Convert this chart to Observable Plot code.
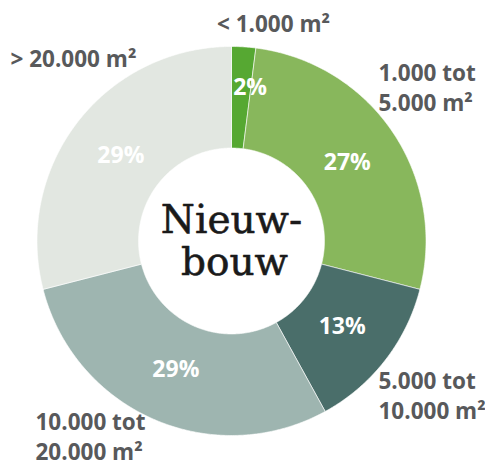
<!DOCTYPE html>
<html>
<head>
<meta charset="utf-8">
<script src="https://cdn.jsdelivr.net/npm/d3@7"></script>
<script src="https://cdn.jsdelivr.net/npm/@observablehq/plot@0.6"></script>
<style>
  html, body { margin: 0; padding: 0; background: #ffffff; }
  #chart svg { display: block; overflow: visible; }
</style>
</head>
<body>
<div id="chart"></div>
<script>
// Data
const categories = ["< 1.000 m²", "1.000 tot\n5.000 m²", "5.000 tot\n10.000 m²", "10.000 tot\n20.000 m²", "> 20.000 m²"];
const shares = [2, 27, 13, 29, 29];
const colors = ["#56a832", "#88b75c", "#4a6e6a", "#9eb5b0", "#e2e7e1"];
const centerTitle = ["Nieuw-", "bouw"];

// Build slice outlines (clockwise from top) in unit coordinates
const innerR = 0.478;
const total = d3.sum(shares);
const cum = [0];
shares.forEach((v, i) => cum.push(cum[i] + v));
const slices = [];
const labels = [];
categories.forEach((cat, i) => {
  const a0 = cum[i] / total * 2 * Math.PI;
  const a1 = cum[i + 1] / total * 2 * Math.PI;
  const n = Math.max(4, Math.ceil((a1 - a0) / (Math.PI / 360)));
  for (let k = 0; k <= n; k++) {
    const t = a0 + (a1 - a0) * k / n;
    slices.push({cat, x: Math.sin(t), y: Math.cos(t)});
  }
  for (let k = n; k >= 0; k--) {
    const t = a0 + (a1 - a0) * k / n;
    slices.push({cat, x: innerR * Math.sin(t), y: innerR * Math.cos(t)});
  }
  slices.push({cat, x: Math.sin(a0), y: Math.cos(a0)});
  const mid = (a0 + a1) / 2;
  const r = shares[i] < 5 ? 0.79 : 0.72;
  labels.push({cat, small: shares[i] < 5, text: shares[i] + "%", x: r * Math.sin(mid), y: r * Math.cos(mid)});
});

const labelFont = "'Open Sans', 'Noto Sans', sans-serif";
const catStyle = {fontFamily: labelFont, fontWeight: 700, fontSize: 22.5, fill: "#58595b", lineHeight: 1.3, lineAnchor: "bottom"};
const titleStyle = {fontFamily: "'DejaVu Serif', serif", fontSize: 39, fill: "#1a1a1a", stroke: "#1a1a1a", strokeWidth: 0.6, lineAnchor: "bottom"};

const chart = Plot.plot({
  width: 485,
  height: 466,
  margin: 0,
  x: {domain: [-1, 1], range: [36.5, 425.5], axis: null},
  y: {domain: [-1, 1], range: [435, 46], axis: null},
  color: {domain: categories, range: colors},
  marks: [
    Plot.line(slices, {x: "x", y: "y", z: "cat", fill: "cat", stroke: "#ffffff", strokeWidth: 1, strokeOpacity: 0.6}),
    Plot.text(labels.filter(d => !d.small), {x: "x", y: "y", text: "text", fill: "#ffffff", fontFamily: labelFont, fontWeight: 700, fontSize: 23}),
    Plot.text(labels.filter(d => d.small), {x: "x", y: "y", text: "text", dx: 9, fill: "#ffffff", fontFamily: labelFont, fontWeight: 700, fontSize: 23}),
    Plot.text([centerTitle[0]], {x: 0, y: 0, text: d => d, ...titleStyle, dy: -8}),
    Plot.text([centerTitle[1]], {x: 0, y: 0, text: d => d, ...titleStyle, dx: 3, dy: 34}),
    Plot.text([categories[0]], {frameAnchor: "top-left", text: d => d, ...catStyle, textAnchor: "middle", dx: 273, dy: 31}),
    Plot.text([categories[1]], {frameAnchor: "top-left", text: d => d, ...catStyle, textAnchor: "start", dx: 378, dy: 110}),
    Plot.text([categories[2]], {frameAnchor: "top-left", text: d => d, ...catStyle, textAnchor: "start", dx: 378, dy: 418}),
    Plot.text([categories[3]], {frameAnchor: "top-left", text: d => d, ...catStyle, textAnchor: "start", dx: 35, dy: 459}),
    Plot.text([categories[4]], {frameAnchor: "top-left", text: d => d, ...catStyle, textAnchor: "start", dx: 10, dy: 66})
  ]
});
document.getElementById("chart").appendChild(chart);
</script>
</body>
</html>
